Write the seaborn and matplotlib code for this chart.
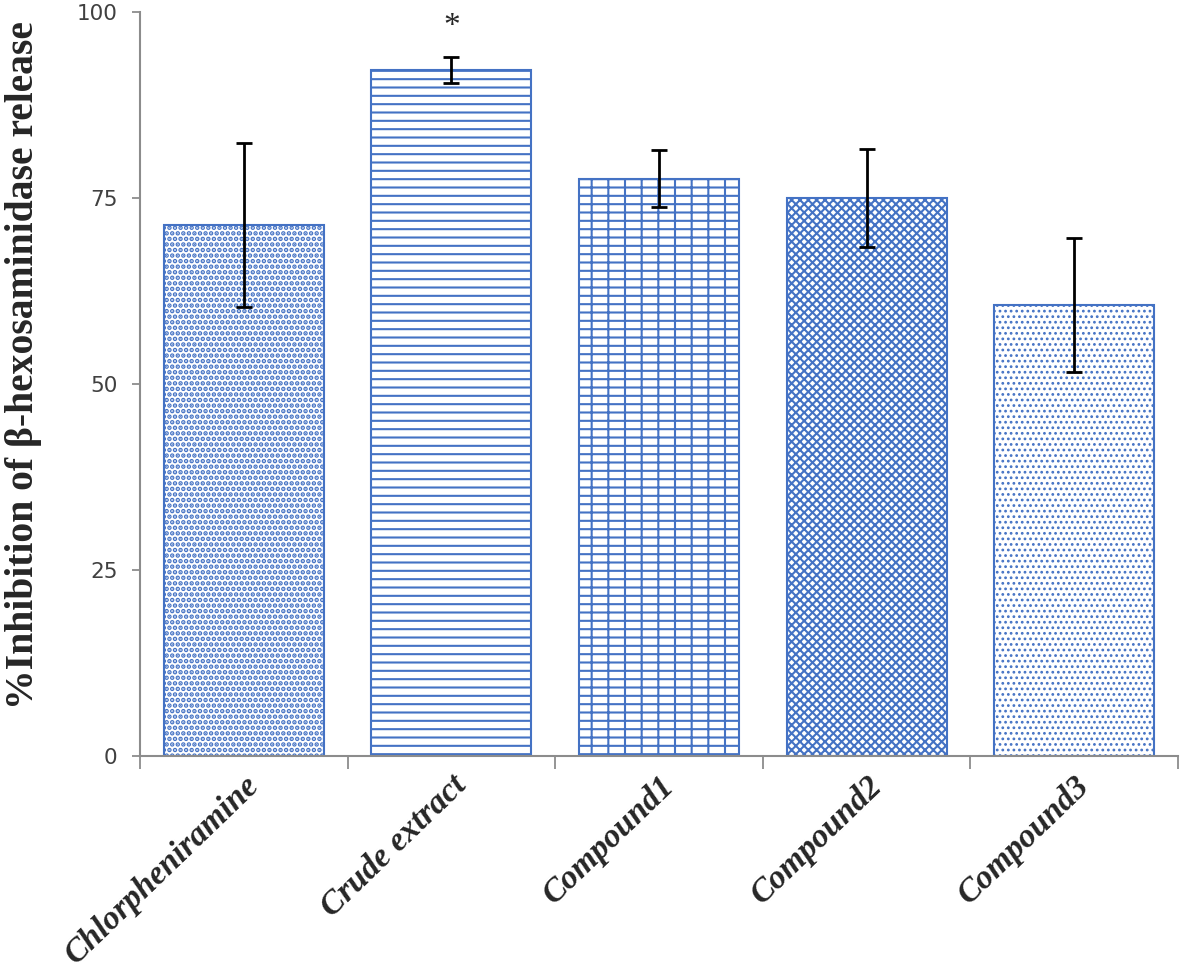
import numpy as np
import pandas as pd
import matplotlib
matplotlib.use("Agg")
import matplotlib.pyplot as plt
import seaborn as sns

# data
groups = ["Chlorpheniramine", "Crude extract", "Compound1", "Compound2", "Compound3"]
inhibition = [71.4, 92.2, 77.6, 75.0, 60.6]
sd = [11.0, 1.7, 3.8, 6.6, 9.0]
hatches = ["...", "--", "--|", "xxxx", "..."]
hatch_lw = [2.3, 1.5, 1.5, 1.5, 1.2]
signif = ["", "*", "", "", ""]

df = pd.DataFrame({"group": groups, "inhibition": inhibition})

sns.set_style("white")
plt.rcParams["hatch.color"] = "#4472C4"
plt.rcParams["hatch.linewidth"] = 1.5

fig = plt.figure(figsize=(11.81, 9.73), dpi=100)
ax = fig.add_axes([0.1185, 0.223, 0.879, 0.7647])

sns.barplot(data=df, x="group", y="inhibition", ax=ax, color="white",
            edgecolor="#4472C4", linewidth=1.5, width=0.77, errorbar=None)

for bar, h, lw in zip(ax.patches, hatches, hatch_lw):
    bar.set_hatch(h)
    bar.set_facecolor("white")
    if hasattr(bar, "set_hatch_linewidth"):
        bar.set_hatch_linewidth(lw)

x = np.arange(len(groups))
ax.errorbar(x, inhibition, yerr=sd, fmt="none", ecolor="black",
            elinewidth=2, capsize=6, capthick=2)

for xi, yi, e, s in zip(x, inhibition, sd, signif):
    if s:
        ax.text(xi, yi + e + 2.0, s, ha="center", va="bottom",
                fontsize=24, family="Liberation Serif")

ax.set_xlim(-0.5, len(groups) - 0.5)
ax.set_ylim(0, 100)
ax.set_yticks([0, 25, 50, 75, 100])
ax.tick_params(axis="y", left=True, length=6, width=1.3, color="#8c8c8c",
               labelsize=15.5, labelcolor="#404040", pad=10)

# category boundary ticks on the x axis
ax.set_xticks(np.arange(-0.5, len(groups)), minor=True)
ax.tick_params(axis="x", which="minor", bottom=True, length=9, width=1.3, color="#8c8c8c")
ax.tick_params(axis="x", which="major", bottom=False, length=0, pad=10)
ax.set_xticklabels(groups, rotation=44, ha="right", rotation_mode="anchor",
                   fontsize=24, family="Liberation Serif", fontweight="bold",
                   fontstyle="italic")

for side in ["top", "right"]:
    ax.spines[side].set_visible(False)
for side in ["left", "bottom"]:
    ax.spines[side].set_color("#8c8c8c")
    ax.spines[side].set_linewidth(1.5)

ax.set_xlabel("")
ax.set_ylabel("%Inhibition of β-hexosaminidase release", fontsize=28.5,
              family="Liberation Serif", fontweight="bold")
ax.yaxis.set_label_coords(-0.094, 0.525)

fig.savefig("out.png", dpi=100)
